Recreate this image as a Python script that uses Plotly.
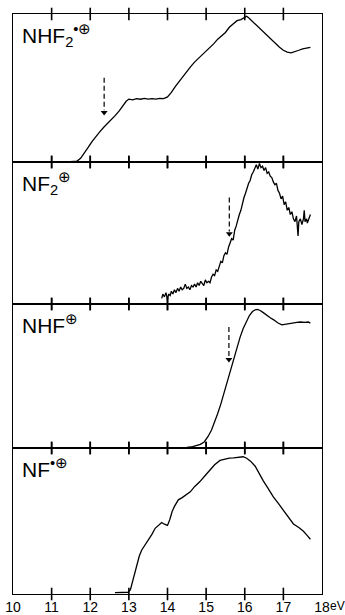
import plotly.graph_objects as go
from plotly.subplots import make_subplots

# ---- data (photon energy in eV, normalised ion yield) ----
nhf2_ev = [11.40, 11.55, 11.65, 11.75, 11.85, 11.95, 12.05, 12.15, 12.25, 12.35, 12.45, 12.55, 12.65,
           12.75, 12.85, 12.93, 13.00, 13.10, 13.20, 13.30, 13.40, 13.50, 13.60, 13.70, 13.80, 13.90,
           14.00, 14.10, 14.20, 14.30, 14.40, 14.50, 14.60, 14.70, 14.80, 14.90, 15.00, 15.10, 15.20,
           15.30, 15.40, 15.50, 15.60, 15.70, 15.80, 15.90, 16.00, 16.05, 16.10, 16.20, 16.30, 16.40,
           16.50, 16.60, 16.70, 16.80, 16.90, 17.00, 17.10, 17.20, 17.30, 17.40, 17.50, 17.60, 17.70]
nhf2_y = [0.0, 0.0, 0.005, 0.025, 0.06, 0.10, 0.14, 0.175, 0.205, 0.235, 0.26, 0.285, 0.315,
          0.345, 0.38, 0.41, 0.425, 0.42, 0.428, 0.424, 0.43, 0.425, 0.428, 0.425, 0.43, 0.428,
          0.44, 0.47, 0.51, 0.545, 0.575, 0.61, 0.645, 0.675, 0.70, 0.725, 0.745, 0.775, 0.80,
          0.83, 0.855, 0.875, 0.91, 0.935, 0.955, 0.962, 0.975, 0.985, 0.975, 0.95, 0.92, 0.895,
          0.87, 0.845, 0.82, 0.795, 0.775, 0.755, 0.742, 0.738, 0.745, 0.755, 0.765, 0.77, 0.775]

nf2_ev = [13.85, 13.88, 13.92, 13.96, 14.00, 14.03, 14.07, 14.10, 14.14, 14.18, 14.22, 14.26, 14.30,
          14.34, 14.38, 14.42, 14.46, 14.50, 14.54, 14.58, 14.62, 14.66, 14.70, 14.74, 14.78, 14.82,
          14.86, 14.90, 14.94, 14.98, 15.02, 15.06, 15.10, 15.14, 15.18, 15.22, 15.26, 15.30, 15.34,
          15.38, 15.42, 15.46, 15.50, 15.54, 15.58, 15.62, 15.66, 15.70, 15.74, 15.78, 15.82, 15.86,
          15.90, 15.94, 15.98, 16.02, 16.06, 16.10, 16.14, 16.18, 16.22, 16.26, 16.30, 16.34, 16.38,
          16.42, 16.46, 16.50, 16.54, 16.58, 16.62, 16.66, 16.70, 16.74, 16.78, 16.82, 16.86, 16.90,
          16.94, 16.98, 17.02, 17.06, 17.10, 17.14, 17.18, 17.22, 17.26, 17.30, 17.34, 17.38, 17.40,
          17.44, 17.48, 17.52, 17.54, 17.56, 17.60, 17.62, 17.66, 17.70]
nf2_y = [0.04, 0.07, 0.05, 0.08, 0.03, 0.07, 0.06, 0.09, 0.07, 0.10, 0.08, 0.11, 0.09,
         0.12, 0.10, 0.11, 0.14, 0.11, 0.12, 0.10, 0.13, 0.12, 0.14, 0.12, 0.15, 0.13,
         0.16, 0.14, 0.13, 0.17, 0.15, 0.16, 0.15, 0.19, 0.21, 0.20, 0.24, 0.23, 0.27,
         0.30, 0.29, 0.34, 0.36, 0.35, 0.40, 0.43, 0.46, 0.45, 0.52, 0.55, 0.60, 0.63,
         0.66, 0.71, 0.75, 0.78, 0.82, 0.85, 0.87, 0.91, 0.93, 0.96, 0.98, 0.95, 0.99,
         0.96, 0.97, 0.94, 0.96, 0.92, 0.93, 0.90, 0.89, 0.86, 0.84, 0.85, 0.80, 0.78,
         0.74, 0.76, 0.70, 0.72, 0.66, 0.68, 0.63, 0.65, 0.60, 0.58, 0.62, 0.48, 0.58,
         0.60, 0.56, 0.60, 0.66, 0.58, 0.60, 0.57, 0.60, 0.63]

nhf_ev = [14.00, 14.30, 14.50, 14.65, 14.76, 14.85, 14.95, 15.05, 15.14, 15.22, 15.30, 15.38, 15.46,
          15.54, 15.62, 15.71, 15.80, 15.88, 15.96, 16.04, 16.12, 16.20, 16.27, 16.33, 16.40, 16.48,
          16.57, 16.66, 16.75, 16.85, 16.96, 17.05, 17.15, 17.25, 17.35, 17.44, 17.55, 17.65, 17.70]
nhf_y = [0.0, 0.0, 0.004, 0.01, 0.016, 0.025, 0.042, 0.08, 0.125, 0.18, 0.24, 0.305, 0.38,
         0.45, 0.52, 0.605, 0.70, 0.77, 0.83, 0.88, 0.92, 0.948, 0.96, 0.962, 0.955, 0.94,
         0.92, 0.905, 0.89, 0.87, 0.855, 0.86, 0.865, 0.87, 0.873, 0.875, 0.872, 0.875, 0.866]

nf_ev = [12.64, 12.98, 13.04, 13.08, 13.13, 13.20, 13.27, 13.33, 13.42, 13.50, 13.60, 13.68, 13.76,
         13.85, 13.92, 14.00, 14.06, 14.12, 14.18, 14.28, 14.38, 14.48, 14.59, 14.70, 14.84, 14.97,
         15.10, 15.22, 15.36, 15.48, 15.60, 15.71, 15.85, 15.96, 16.05, 16.15, 16.27, 16.38, 16.48,
         16.60, 16.74, 16.87, 17.00, 17.13, 17.26, 17.40, 17.52, 17.62, 17.70]
nf_y = [0.01, 0.012, 0.03, 0.07, 0.13, 0.21, 0.26, 0.30, 0.335, 0.37, 0.41, 0.45, 0.47,
        0.49, 0.478, 0.47, 0.51, 0.565, 0.60, 0.645, 0.66, 0.68, 0.70, 0.735, 0.77, 0.81,
        0.85, 0.885, 0.915, 0.925, 0.93, 0.932, 0.938, 0.94, 0.93, 0.91, 0.875, 0.82, 0.775,
        0.725, 0.665, 0.62, 0.575, 0.525, 0.48, 0.455, 0.43, 0.40, 0.375]

# dashed threshold arrows (row, energy, top, tip)
arrow_rows = [1, 2, 3]
arrow_ev = [12.36, 15.60, 15.59]
arrow_top = [0.57, 0.75, 0.84]
arrow_tip = [0.31, 0.47, 0.59]

labels = ["NHF<sub>2</sub><sup>•⊕</sup>", "NF<sub>2</sub><sup>⊕</sup>",
          "NHF<sup>⊕</sup>", "NF<sup>•⊕</sup>"]
tick_vals = [10, 11, 12, 13, 14, 15, 16, 17, 18]
tick_text = ["10", "11", "12", "13", "14", "15", "16", "17", "18"]

FONT = "Liberation Sans Narrow, Arial Narrow, Liberation Sans, Arial, sans-serif"

fig = make_subplots(rows=4, cols=1, shared_xaxes=False, vertical_spacing=0,
                    row_heights=[148, 142, 144, 146])

series = [(nhf2_ev, nhf2_y), (nf2_ev, nf2_y), (nhf_ev, nhf_y), (nf_ev, nf_y)]
for i, (xs, ys) in enumerate(series, start=1):
    fig.add_trace(go.Scatter(x=xs, y=ys, mode="lines",
                             line=dict(color="black", width=1.3), hoverinfo="skip"),
                  row=i, col=1)

for r, ev, top, tip in zip(arrow_rows, arrow_ev, arrow_top, arrow_tip):
    fig.add_trace(go.Scatter(x=[ev, ev], y=[top, tip + 0.04], mode="lines",
                             line=dict(color="black", width=1.2, dash="5px,3px")),
                  row=r, col=1)
    fig.add_trace(go.Scatter(x=[ev], y=[tip + 0.025], mode="markers",
                             marker=dict(symbol="triangle-down", size=6, color="black")),
                  row=r, col=1)

# crossing tick marks on the top and bottom frame of each panel, as vertical-line markers
for i in range(1, 5):
    fig.add_trace(go.Scatter(x=tick_vals[1:-1] * 2,
                             y=[0.0] * (len(tick_vals) - 2) + [1.0] * (len(tick_vals) - 2),
                             mode="markers", cliponaxis=False, hoverinfo="skip",
                             marker=dict(symbol="line-ns", size=9,
                                         line=dict(color="black", width=1.6))),
                  row=i, col=1)

for i in range(1, 5):
    fig.update_xaxes(range=[10, 18], tickmode="array", tickvals=tick_vals, ticktext=tick_text,
                     ticks="", showline=True, linecolor="black", linewidth=1.4, mirror=True,
                     showgrid=False, zeroline=False, automargin=False,
                     showticklabels=(i == 4),
                     tickfont=dict(family=FONT, size=14, color="black"),
                     row=i, col=1)
    fig.update_yaxes(range=[0, 1], showticklabels=False, ticks="", automargin=False,
                     showline=True, linecolor="black", linewidth=1.1, mirror=True,
                     showgrid=False, zeroline=False, row=i, col=1)

for i, lab in enumerate(labels, start=1):
    yref = "y domain" if i == 1 else f"y{i} domain"
    xref = "x domain" if i == 1 else f"x{i} domain"
    fig.add_annotation(text=lab, xref=xref, yref=yref, x=0.0, xshift=7, y=0.965,
                       xanchor="left", yanchor="top", showarrow=False,
                       font=dict(family=FONT, size=21, color="black"))

fig.add_annotation(text="eV", xref="paper", yref="paper", x=1.0, y=0, xshift=6,
                   yshift=-3, xanchor="left", yanchor="top", showarrow=False,
                   font=dict(family=FONT, size=12, color="black"))

fig.update_layout(template="none", width=345, height=615,
                  margin=dict(l=13, r=23, t=14, b=21),
                  showlegend=False, plot_bgcolor="white", paper_bgcolor="white")

fig.write_html("out.html")
